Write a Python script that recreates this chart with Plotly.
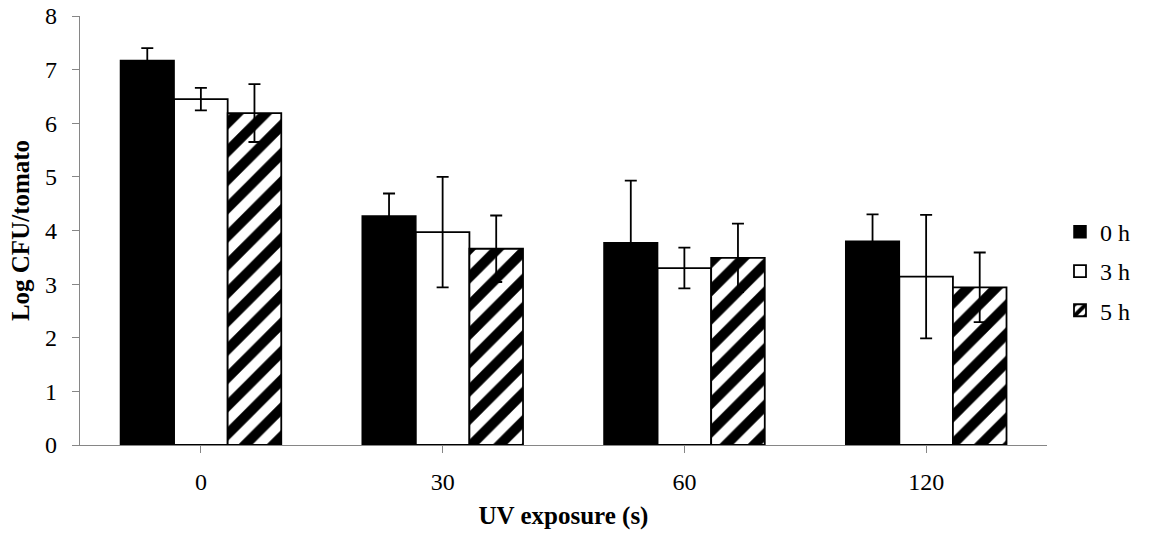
import plotly.graph_objects as go

categories = ["0", "30", "60", "120"]
series_names = ["0 h", "3 h", "5 h"]
vals_0h = [7.17, 4.27, 3.77, 3.80]
err_0h = [0.23, 0.42, 1.16, 0.50]
vals_3h = [6.45, 3.97, 3.30, 3.14]
err_3h = [0.21, 1.03, 0.38, 1.15]
vals_5h = [6.19, 3.66, 3.49, 2.94]
err_5h = [0.54, 0.62, 0.64, 0.65]

FONT = "Liberation Serif"
err_style = dict(type="data", visible=True, color="black", thickness=1.8, width=6)

fig = go.Figure()
fig.add_trace(go.Bar(
    name=series_names[0], x=categories, y=vals_0h,
    error_y=dict(array=err_0h, **err_style),
    marker=dict(color="black", line=dict(color="black", width=1.5)),
    legendgroup="a",
))
fig.add_trace(go.Bar(
    name=series_names[1], x=categories, y=vals_3h,
    error_y=dict(array=err_3h, **err_style),
    marker=dict(color="white", line=dict(color="black", width=1.8)),
    legendgroup="b",
))
fig.add_trace(go.Bar(
    name=series_names[2], x=categories, y=vals_5h,
    error_y=dict(array=err_5h, **err_style),
    marker=dict(color="white", line=dict(color="black", width=1.8),
                pattern=dict(shape="/", fgcolor="black", bgcolor="white",
                             fgopacity=1, fillmode="replace",
                             size=20, solidity=0.5)),
    legendgroup="c",
))

fig.update_layout(
    width=1149, height=538,
    margin=dict(l=80, r=102, t=16, b=93),
    paper_bgcolor="white", plot_bgcolor="white",
    barmode="group", bargap=0.335, bargroupgap=0,
    font=dict(family=FONT, size=24, color="black"),
    legend=dict(x=1.091, y=0.405, xanchor="right", yanchor="middle",
                font=dict(family=FONT, size=24, color="black"),
                tracegroupgap=5, itemwidth=30, bgcolor="rgba(0,0,0,0)"),
    xaxis=dict(
        type="category", automargin=False,
        showline=True, linecolor="#868686", linewidth=1.3,
        ticks="outside", ticklen=7, tickcolor="#868686", tickwidth=1.3,
        tickfont=dict(family=FONT, size=24, color="black"),
        ticklabelstandoff=8,
        showgrid=False, zeroline=False,
        title=dict(text="<b>UV exposure (s)</b>", font=dict(family=FONT, size=25, color="black"),
                   standoff=12),
    ),
    yaxis=dict(
        range=[0, 8], dtick=1, automargin=False,
        showline=True, linecolor="#868686", linewidth=1.3,
        ticks="outside", ticklen=7, tickcolor="#868686", tickwidth=1.3,
        tickfont=dict(family=FONT, size=24, color="black"),
        ticklabelstandoff=10,
        showgrid=False, zeroline=False,
        title=dict(text="<b>Log CFU/tomato</b>", font=dict(family=FONT, size=25, color="black"),
                   standoff=8),
    ),
)

fig.write_html("out.html")
